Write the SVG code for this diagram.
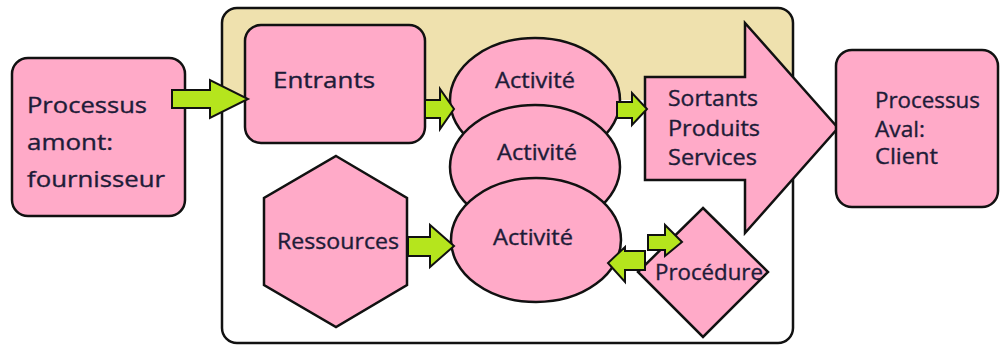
<svg xmlns="http://www.w3.org/2000/svg" width="1001" height="346" viewBox="0 0 1001 346">
  <style>
    .box { fill: #FFAAC8; stroke: #111; stroke-width: 2.5; }
    .flow { fill: #B5E51D; stroke: #111; stroke-width: 2; stroke-linejoin: miter; }
    .lbl { font-family: "Open Sans", "DejaVu Sans", sans-serif; font-size: 21px; fill: #1e1c38; stroke: #1e1c38; stroke-width: 0.35; }
  </style>
  <rect width="1001" height="346" fill="#fff"/>

  <!-- process boundary: white body with a beige upper band -->
  <g id="process">
    <rect x="222" y="8" width="571" height="335" rx="15" fill="#fff"/>
    <path d="M222,100 V23 Q222,8 237,8 H778 Q793,8 793,23 V100 Z" fill="#EFE1AE"/>
    <rect x="222" y="8" width="571" height="335" rx="15" fill="none" stroke="#111" stroke-width="2.5"/>
  </g>

  <g id="amont">
    <rect class="box" x="12" y="58" width="173" height="158" rx="16"/>
    <text class="lbl" x="27" y="113" font-size="23" textLength="120" lengthAdjust="spacingAndGlyphs">Processus</text>
    <text class="lbl" x="27" y="150" font-size="23" textLength="86" lengthAdjust="spacingAndGlyphs">amont:</text>
    <text class="lbl" x="27" y="187" font-size="23" textLength="138" lengthAdjust="spacingAndGlyphs">fournisseur</text>
  </g>

  <g id="entrants">
    <rect class="box" x="245" y="25" width="180" height="118" rx="16"/>
    <text class="lbl" x="273" y="88" font-size="23" textLength="102" lengthAdjust="spacingAndGlyphs">Entrants</text>
  </g>

  <g id="activite1">
    <ellipse class="box" cx="535" cy="100" rx="85" ry="62"/>
    <text class="lbl" x="495" y="88" textLength="80" lengthAdjust="spacingAndGlyphs">Activité</text>
  </g>
  <g id="activite2">
    <ellipse class="box" cx="535" cy="167" rx="85" ry="62"/>
    <text class="lbl" x="497" y="160" textLength="80" lengthAdjust="spacingAndGlyphs">Activité</text>
  </g>
  <g id="activite3">
    <ellipse class="box" cx="536" cy="240" rx="85" ry="62"/>
    <text class="lbl" x="493" y="245" textLength="80" lengthAdjust="spacingAndGlyphs">Activité</text>
  </g>

  <g id="ressources">
    <path class="box" d="M336,156 L407,198 L407,285 L336,327 L264,285 L264,198 Z"/>
    <text class="lbl" x="277" y="249" textLength="122" lengthAdjust="spacingAndGlyphs">Ressources</text>
  </g>

  <g id="procedure">
    <path class="box" d="M703,208 L768,272 L703,337 L638,272 Z"/>
    <text class="lbl" x="655" y="280" textLength="108" lengthAdjust="spacingAndGlyphs">Procédure</text>
  </g>

  <g id="sortants">
    <path class="box" d="M645,77 H745 V23 L838,128 L745,233 V180 H645 Z"/>
    <text class="lbl" x="668" y="106" textLength="90" lengthAdjust="spacingAndGlyphs">Sortants</text>
    <text class="lbl" x="668" y="136" textLength="92" lengthAdjust="spacingAndGlyphs">Produits</text>
    <text class="lbl" x="668" y="165" textLength="89" lengthAdjust="spacingAndGlyphs">Services</text>
  </g>

  <g id="aval">
    <rect class="box" x="836" y="50" width="162" height="157" rx="16"/>
    <text class="lbl" x="875" y="108" textLength="105" lengthAdjust="spacingAndGlyphs">Processus</text>
    <text class="lbl" x="875" y="137" textLength="50" lengthAdjust="spacingAndGlyphs">Aval:</text>
    <text class="lbl" x="875" y="164" textLength="63" lengthAdjust="spacingAndGlyphs">Client</text>
  </g>

  <!-- block arrows between the steps -->
  <g id="connectors">
    <path class="flow" d="M172,90 H210 V80 L248,99 L210,118 V108 H172 Z"/>
    <path class="flow" d="M425,100 H440 V89 L454,109 L440,129 V118 H425 Z"/>
    <path class="flow" d="M617,102 H632 V93 L647,109 L632,125 V118 H617 Z"/>
    <path class="flow" d="M408,237 H430 V225 L454,246 L430,267 V256 H408 Z"/>
    <path class="flow" d="M648,235 H665 V225 L682,242 L665,256 V250 H648 Z"/>
    <path class="flow" d="M645,251 H625 V247 L608,263 L625,282 V270 H645 Z"/>
  </g>
</svg>
